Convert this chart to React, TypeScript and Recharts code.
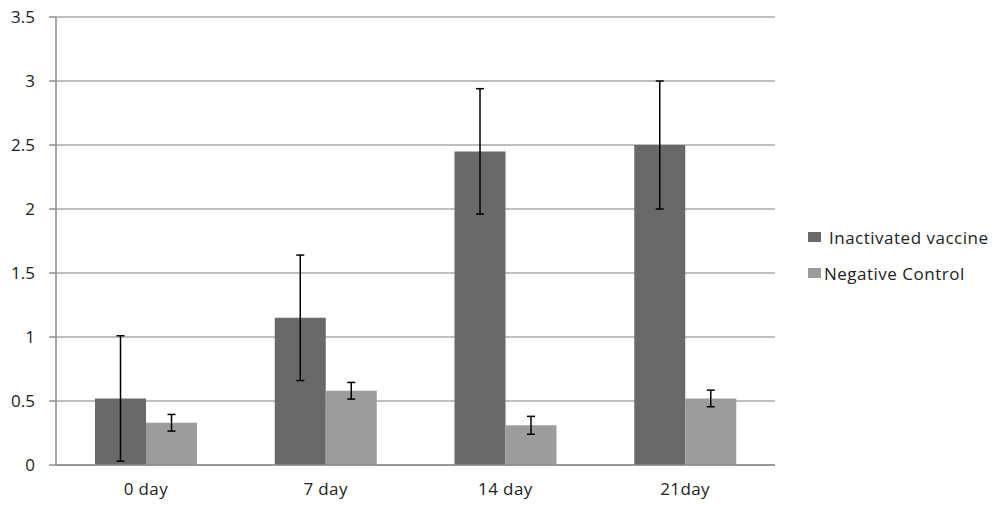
import React from 'react';
import { BarChart, Bar, XAxis, YAxis, CartesianGrid, ErrorBar } from 'recharts';

const categories = ['0 day', '7 day', '14 day', '21day'];
const vaccine = [0.52, 1.15, 2.45, 2.5];
const vaccineErr = [0.49, 0.49, 0.49, 0.5];
const control = [0.33, 0.58, 0.31, 0.52];
const controlErr = [0.065, 0.065, 0.07, 0.065];
const yTicks = [0, 0.5, 1, 1.5, 2, 2.5, 3, 3.5];
const boundaryTicks = [0, 1, 2, 3, 4];
const seriesNames = ['Inactivated vaccine', 'Negative Control'];
const colors = ['#696969', '#9c9c9c'];

const data = categories.map((c, i) => ({
  name: c,
  vaccine: vaccine[i],
  vaccineErr: vaccineErr[i],
  control: control[i],
  controlErr: controlErr[i],
}));

const font = '"Open Sans", "DejaVu Sans", sans-serif';

const LegendBox = () => (
  <div style={{ position: 'absolute', left: 808, top: 227, fontFamily: font, fontSize: 17, color: '#222', letterSpacing: 0.5 }}>
    {seriesNames.map((n, i) => (
      <div key={n} style={{ display: 'flex', alignItems: 'center', height: 20, marginBottom: 16, whiteSpace: 'nowrap' }}>
        <span style={{ display: 'inline-block', width: 13, height: 10, background: colors[i], marginRight: i === 0 ? 8 : 3 }} />
        <span>{n}</span>
      </div>
    ))}
  </div>
);

export default function App() {
  return (
    <div style={{ position: 'fixed', left: 0, top: 0, width: 1000, height: 509, background: '#fff' }}>
      <BarChart
        width={1000}
        height={509}
        data={data}
        margin={{ top: 17, right: 225, bottom: 0, left: 0 }}
        barCategoryGap="21.7%"
        barGap={0}
      >
        <CartesianGrid vertical={false} stroke="#a8a8a8" strokeWidth={1.5} />
        <XAxis
          xAxisId="bounds"
          type="number"
          domain={[0, 4]}
          ticks={boundaryTicks}
          interval={0}
          height={0}
          axisLine={false}
          tickLine={{ stroke: '#8c8c8c', strokeWidth: 1.5 }}
          tickSize={6}
          tickFormatter={() => ''}
        />
        <XAxis
          dataKey="name"
          height={44}
          axisLine={{ stroke: '#8c8c8c', strokeWidth: 1.5 }}
          tickLine={false}
          tick={{ fill: '#222', fontSize: 17, fontFamily: font, letterSpacing: 0.4 }}
          tickMargin={12}
        />
        <YAxis
          width={56}
          domain={[0, 3.5]}
          ticks={yTicks}
          interval={0}
          axisLine={{ stroke: '#8c8c8c', strokeWidth: 1.5 }}
          tickLine={{ stroke: '#8c8c8c', strokeWidth: 1.5 }}
          tickSize={7}
          tickMargin={14}
          tick={{ fill: '#222', fontSize: 17, fontFamily: font }}
        />
        <Bar dataKey="vaccine" name={seriesNames[0]} fill={colors[0]} isAnimationActive={false}>
          <ErrorBar dataKey="vaccineErr" width={4} stroke="#000" strokeWidth={1.5} />
        </Bar>
        <Bar dataKey="control" name={seriesNames[1]} fill={colors[1]} isAnimationActive={false}>
          <ErrorBar dataKey="controlErr" width={4} stroke="#000" strokeWidth={1.5} />
        </Bar>
      </BarChart>
      <LegendBox />
    </div>
  );
}
